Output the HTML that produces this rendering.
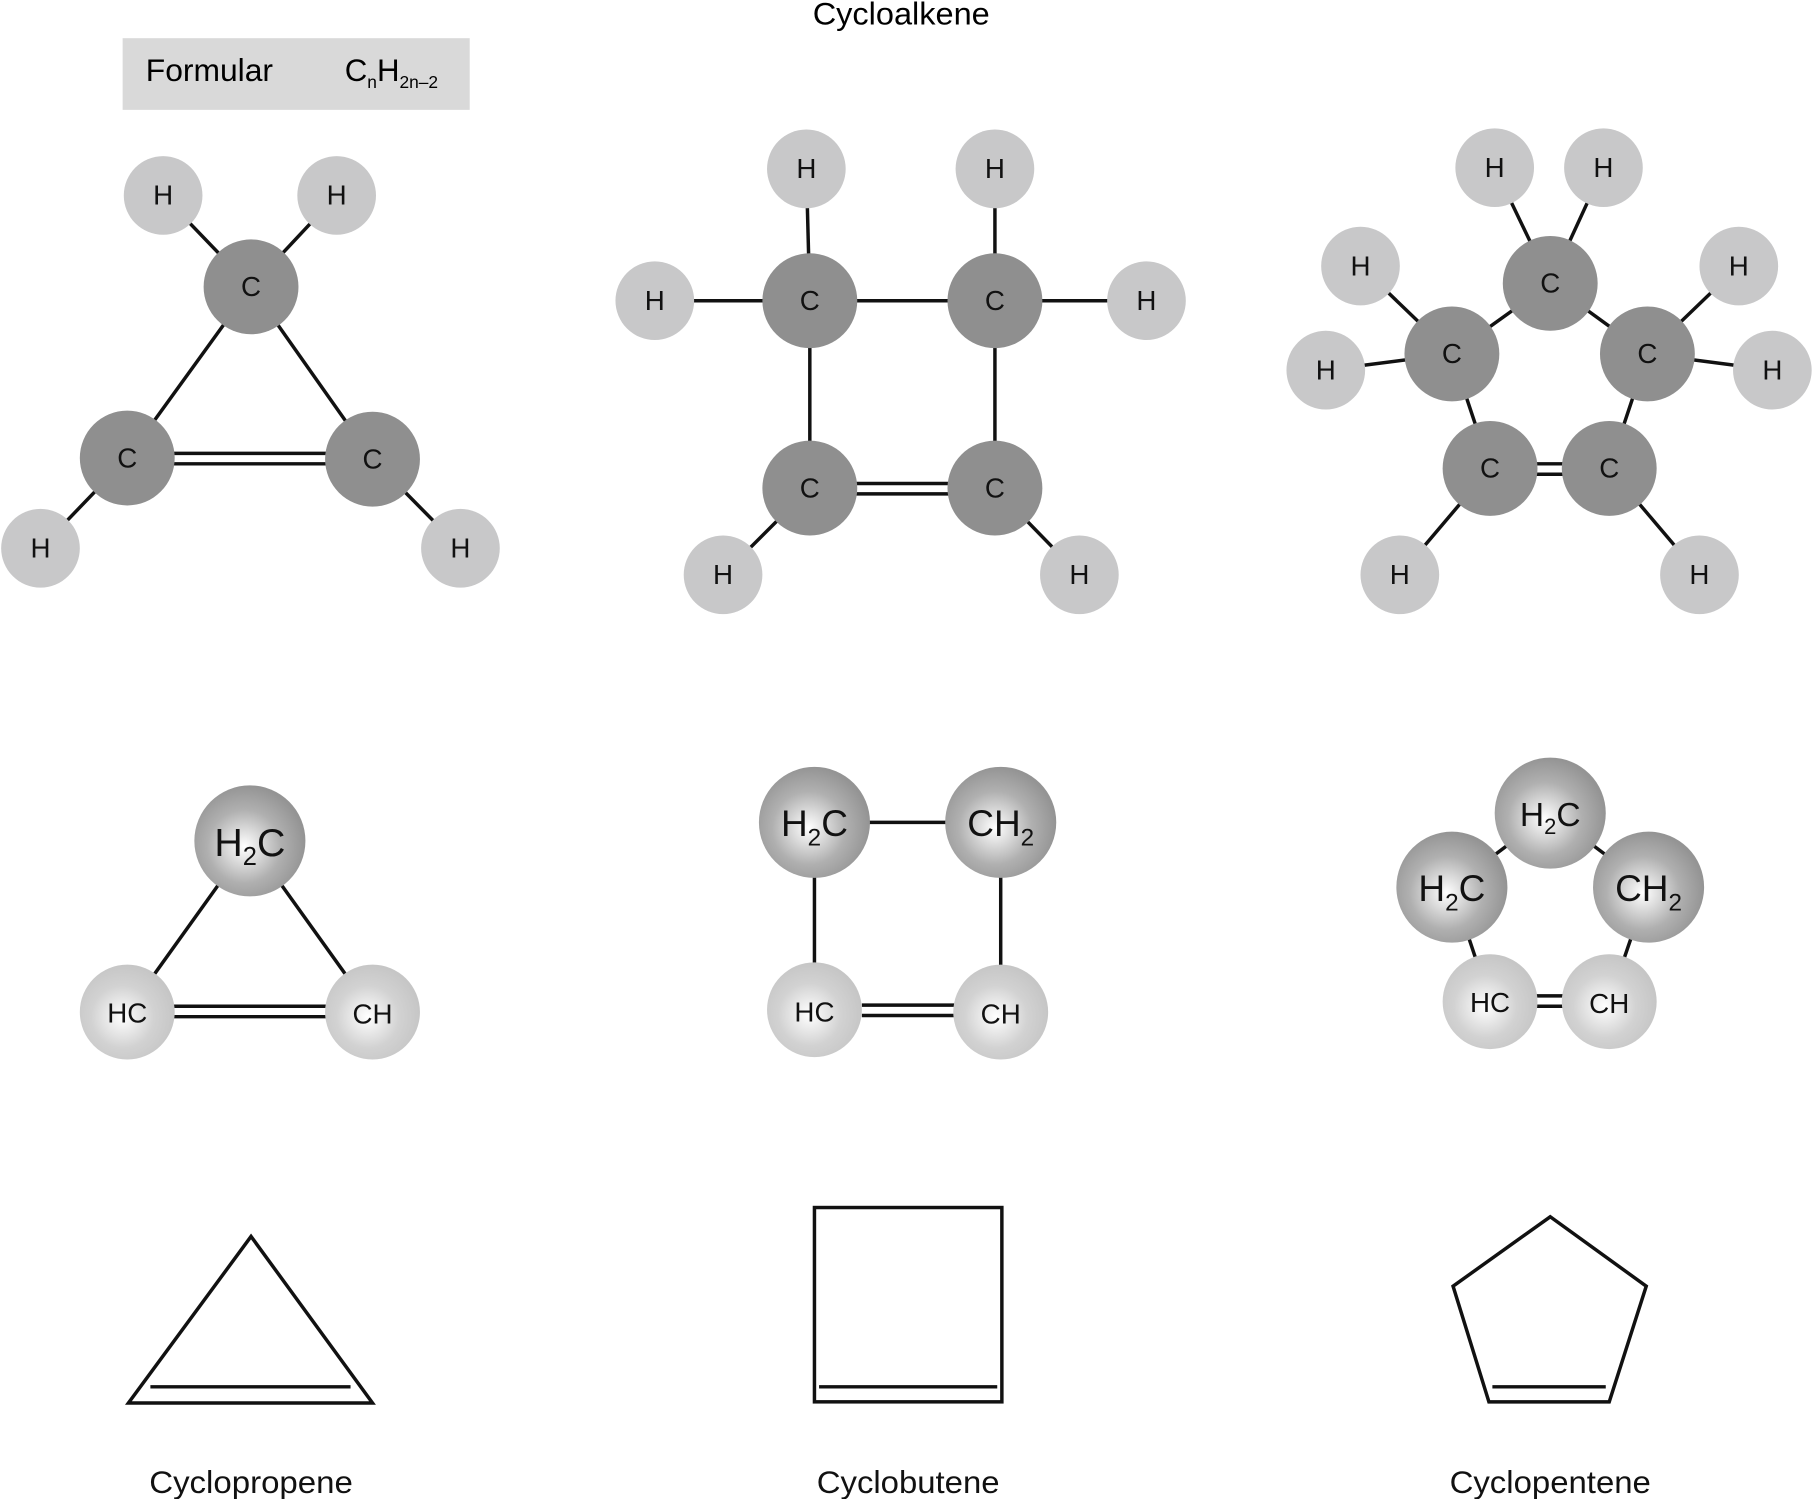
<!DOCTYPE html>
<html><head><meta charset="utf-8"><style>html,body{margin:0;padding:0;background:#fff}svg{display:block}</style></head><body>
<svg width="1814" height="1499" viewBox="0 0 1568 1296" preserveAspectRatio="none" xmlns="http://www.w3.org/2000/svg" font-family="Liberation Sans, sans-serif">
<defs>
<radialGradient id="gd" cx="0.45" cy="0.55" r="0.55"><stop offset="0" stop-color="#ffffff"/><stop offset="0.6" stop-color="#b0b0b0"/><stop offset="1" stop-color="#949494"/></radialGradient>
<radialGradient id="gl" cx="0.45" cy="0.55" r="0.55"><stop offset="0" stop-color="#ffffff"/><stop offset="0.6" stop-color="#d2d2d2"/><stop offset="1" stop-color="#c6c6c6"/></radialGradient>
</defs>
<rect width="1568" height="1296" fill="#fff"/>
<text x="779" y="21" font-size="27" text-anchor="middle" textLength="153" lengthAdjust="spacingAndGlyphs">Cycloalkene</text>
<rect x="106" y="33" width="300" height="62" fill="#d9d9d9"/>
<text x="126" y="70" font-size="27" textLength="110" lengthAdjust="spacingAndGlyphs">Formular</text>
<text x="298" y="70" font-size="27">C<tspan font-size="15" dy="6">n</tspan><tspan dy="-6">H</tspan><tspan font-size="15" dy="6">2n–2</tspan></text>
<g stroke="#111" stroke-width="3" fill="none">
<line x1="217" y1="248" x2="141" y2="169"/><line x1="217" y1="248" x2="291" y2="169"/>
<line x1="217" y1="248" x2="110" y2="396"/><line x1="217" y1="248" x2="322" y2="397"/>
<line x1="110" y1="396" x2="35" y2="474"/><line x1="322" y1="397" x2="398" y2="474"/>
<line x1="150" y1="392" x2="282" y2="392"/><line x1="150" y1="401" x2="282" y2="401"/>
<line x1="700" y1="260" x2="697" y2="146"/><line x1="860" y1="260" x2="860" y2="146"/>
<line x1="700" y1="260" x2="566" y2="260"/><line x1="860" y1="260" x2="991" y2="260"/>
<line x1="700" y1="260" x2="860" y2="260"/><line x1="700" y1="260" x2="700" y2="422"/><line x1="860" y1="260" x2="860" y2="422"/>
<line x1="700" y1="422" x2="625" y2="497"/><line x1="860" y1="422" x2="933" y2="497"/>
<line x1="740" y1="418" x2="820" y2="418"/><line x1="740" y1="427" x2="820" y2="427"/>
<line x1="1340" y1="245" x2="1292" y2="145"/><line x1="1340" y1="245" x2="1386" y2="145"/>
<line x1="1340" y1="245" x2="1255" y2="306"/><line x1="1340" y1="245" x2="1424" y2="306"/>
<line x1="1255" y1="306" x2="1176" y2="230"/><line x1="1255" y1="306" x2="1146" y2="320"/>
<line x1="1424" y1="306" x2="1503" y2="230"/><line x1="1424" y1="306" x2="1532" y2="320"/>
<line x1="1255" y1="306" x2="1288" y2="405"/><line x1="1424" y1="306" x2="1391" y2="405"/>
<line x1="1288" y1="405" x2="1210" y2="497"/><line x1="1391" y1="405" x2="1469" y2="497"/>
<line x1="1326" y1="401" x2="1353" y2="401"/><line x1="1326" y1="410" x2="1353" y2="410"/>
<line x1="216" y1="727" x2="110" y2="875"/><line x1="216" y1="727" x2="322" y2="875"/>
<line x1="150" y1="870" x2="282" y2="870"/><line x1="150" y1="879" x2="282" y2="879"/>
<line x1="704" y1="711" x2="865" y2="711"/><line x1="704" y1="711" x2="704" y2="873"/><line x1="865" y1="711" x2="865" y2="875"/>
<line x1="745" y1="869" x2="825" y2="869"/><line x1="745" y1="878" x2="825" y2="878"/>
<line x1="1340" y1="703" x2="1255" y2="767"/><line x1="1340" y1="703" x2="1425" y2="767"/>
<line x1="1255" y1="767" x2="1288" y2="866"/><line x1="1425" y1="767" x2="1391" y2="866"/>
<line x1="1326" y1="861" x2="1353" y2="861"/><line x1="1326" y1="870" x2="1353" y2="870"/>
<polygon points="217,1069 111,1213 322,1213"/><line x1="130" y1="1199" x2="303" y2="1199"/>
<rect x="704" y="1044" width="162" height="168"/><line x1="708" y1="1199" x2="862" y2="1199"/>
<polygon points="1340,1052 1423,1112 1391,1212 1287,1212 1256,1112"/><line x1="1290" y1="1199" x2="1388" y2="1199"/>
</g>
<g font-size="24" text-anchor="middle">
<g fill="#8f8f8f">
<circle cx="217" cy="248" r="41"/><circle cx="110" cy="396" r="41"/><circle cx="322" cy="397" r="41"/>
<circle cx="700" cy="260" r="41"/><circle cx="860" cy="260" r="41"/><circle cx="700" cy="422" r="41"/><circle cx="860" cy="422" r="41"/>
<circle cx="1340" cy="245" r="41"/><circle cx="1255" cy="306" r="41"/><circle cx="1424" cy="306" r="41"/><circle cx="1288" cy="405" r="41"/><circle cx="1391" cy="405" r="41"/>
</g>
<g fill="#c8c8c9">
<circle cx="141" cy="169" r="34"/><circle cx="291" cy="169" r="34"/><circle cx="35" cy="474" r="34"/><circle cx="398" cy="474" r="34"/>
<circle cx="697" cy="146" r="34"/><circle cx="860" cy="146" r="34"/><circle cx="566" cy="260" r="34"/><circle cx="991" cy="260" r="34"/><circle cx="625" cy="497" r="34"/><circle cx="933" cy="497" r="34"/>
<circle cx="1292" cy="145" r="34"/><circle cx="1386" cy="145" r="34"/><circle cx="1176" cy="230" r="34"/><circle cx="1503" cy="230" r="34"/><circle cx="1146" cy="320" r="34"/><circle cx="1532" cy="320" r="34"/><circle cx="1210" cy="497" r="34"/><circle cx="1469" cy="497" r="34"/>
</g>
<g fill="#111">
<text x="217" y="256">C</text><text x="110" y="404">C</text><text x="322" y="405">C</text>
<text x="700" y="268">C</text><text x="860" y="268">C</text><text x="700" y="430">C</text><text x="860" y="430">C</text>
<text x="1340" y="253">C</text><text x="1255" y="314">C</text><text x="1424" y="314">C</text><text x="1288" y="413">C</text><text x="1391" y="413">C</text>
<text x="141" y="177">H</text><text x="291" y="177">H</text><text x="35" y="482">H</text><text x="398" y="482">H</text>
<text x="697" y="154">H</text><text x="860" y="154">H</text><text x="566" y="268">H</text><text x="991" y="268">H</text><text x="625" y="505">H</text><text x="933" y="505">H</text>
<text x="1292" y="153">H</text><text x="1386" y="153">H</text><text x="1176" y="238">H</text><text x="1503" y="238">H</text><text x="1146" y="328">H</text><text x="1532" y="328">H</text><text x="1210" y="505">H</text><text x="1469" y="505">H</text>
</g>
</g>
<g text-anchor="middle" fill="#111">
<circle cx="216" cy="727" r="48" fill="url(#gd)"/><circle cx="110" cy="875" r="41" fill="url(#gl)"/><circle cx="322" cy="875" r="41" fill="url(#gl)"/>
<circle cx="704" cy="711" r="48" fill="url(#gd)"/><circle cx="865" cy="711" r="48" fill="url(#gd)"/><circle cx="704" cy="873" r="41" fill="url(#gl)"/><circle cx="865" cy="875" r="41" fill="url(#gl)"/>
<circle cx="1340" cy="703" r="48" fill="url(#gd)"/><circle cx="1255" cy="767" r="48" fill="url(#gd)"/><circle cx="1425" cy="767" r="48" fill="url(#gd)"/><circle cx="1288" cy="866" r="41" fill="url(#gl)"/><circle cx="1391" cy="866" r="41" fill="url(#gl)"/>
<text x="216" y="740" font-size="34">H<tspan font-size="22" dy="8">2</tspan><tspan dy="-8">C</tspan></text>
<text x="110" y="884" font-size="24">HC</text><text x="322" y="885" font-size="24">CH</text>
<text x="704" y="723" font-size="32">H<tspan font-size="21" dy="8">2</tspan><tspan dy="-8">C</tspan></text>
<text x="865" y="723" font-size="32">CH<tspan font-size="21" dy="8">2</tspan></text>
<text x="704" y="883" font-size="24">HC</text><text x="865" y="885" font-size="24">CH</text>
<text x="1340" y="714" font-size="29">H<tspan font-size="19" dy="7">2</tspan><tspan dy="-7">C</tspan></text>
<text x="1255" y="779" font-size="32">H<tspan font-size="21" dy="8">2</tspan><tspan dy="-8">C</tspan></text>
<text x="1425" y="779" font-size="32">CH<tspan font-size="21" dy="8">2</tspan></text>
<text x="1288" y="875" font-size="24">HC</text><text x="1391" y="876" font-size="24">CH</text>
</g>
<g font-size="27" fill="#111">
<text x="129" y="1291" textLength="176" lengthAdjust="spacingAndGlyphs">Cyclopropene</text>
<text x="706" y="1291" textLength="158" lengthAdjust="spacingAndGlyphs">Cyclobutene</text>
<text x="1253" y="1291" textLength="174" lengthAdjust="spacingAndGlyphs">Cyclopentene</text>
</g>
</svg>
</body></html>
